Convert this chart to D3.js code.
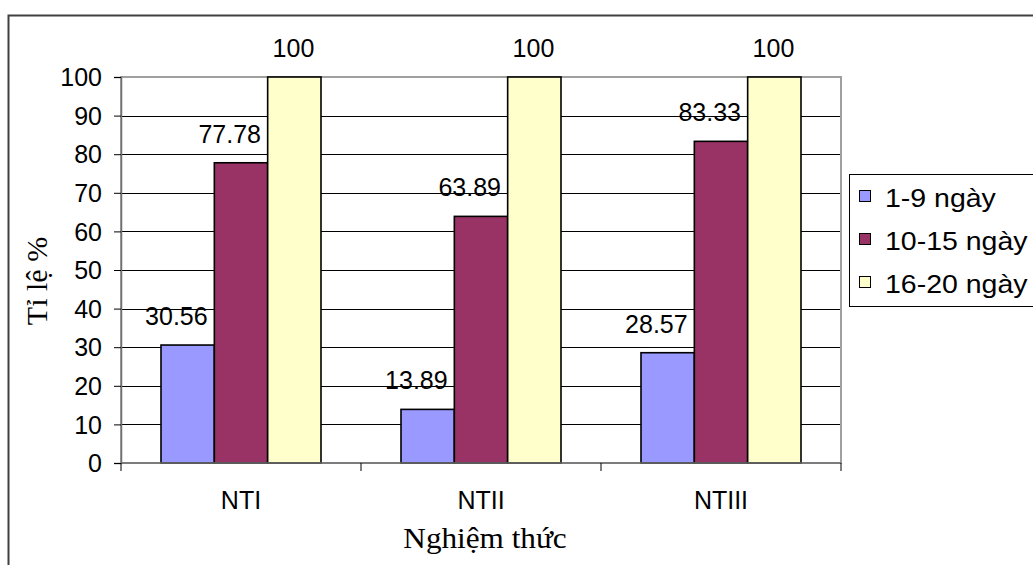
<!DOCTYPE html>
<html>
<head>
<meta charset="utf-8">
<script src="https://cdn.jsdelivr.net/npm/d3@7"></script>
<style>
  html, body { margin: 0; padding: 0; background: #fff; }
  svg { display: block; }
  .sans { font-family: "Liberation Sans", Arial, sans-serif; }
  .serif { font-family: "Liberation Serif", "Times New Roman", serif; }
</style>
</head>
<body>
<svg id="chart" width="1033" height="565"></svg>
<script>
// Treatments on the x axis and the three time ranges in the legend
const categories = ["NTI", "NTII", "NTIII"];
const seriesNames = ["1-9 ngày", "10-15 ngày", "16-20 ngày"];
const seriesColors = ["#9999FF", "#993366", "#FFFFCC"];

// Percentage values per time range, one entry per treatment
const values_1_9 = [30.56, 13.89, 28.57];
const values_10_15 = [77.78, 63.89, 83.33];
const values_16_20 = [100, 100, 100];

const yTicks = [0, 10, 20, 30, 40, 50, 60, 70, 80, 90, 100];

const seriesValues = [values_1_9, values_10_15, values_16_20];
const rows = [];
categories.forEach((c, ci) => {
  seriesNames.forEach((s, si) => {
    rows.push({ category: c, series: s, si, value: seriesValues[si][ci] });
  });
});

const svg = d3.select("#chart");

// Outer frame of the chart (open on the right and bottom edges)
svg.append("rect")
  .attr("x", 8.5).attr("y", 15.5)
  .attr("width", 1100).attr("height", 600)
  .attr("fill", "none").attr("stroke", "#404040").attr("stroke-width", 2);

const plot = { left: 121, right: 841, top: 77, bottom: 463 };

const x = d3.scaleBand().domain(categories).range([plot.left, plot.right]).padding(0);
const xInner = d3.scaleBand().domain(seriesNames)
  .range([x.bandwidth() / 6, x.bandwidth() * 5 / 6]).padding(0);
const y = d3.scaleLinear().domain([0, 100]).range([plot.bottom, plot.top]);

// Horizontal gridlines
svg.append("g").selectAll("line")
  .data(yTicks.filter(t => t > 0 && t < 100))
  .join("line")
  .attr("x1", plot.left).attr("x2", plot.right)
  .attr("y1", d => Math.round(y(d)) + 0.5).attr("y2", d => Math.round(y(d)) + 0.5)
  .attr("stroke", "#000").attr("stroke-width", 1);

// Plot area border
svg.append("rect")
  .attr("x", plot.left).attr("y", plot.top)
  .attr("width", plot.right - plot.left).attr("height", plot.bottom - plot.top)
  .attr("fill", "none").attr("stroke", "#a0a0a0").attr("stroke-width", 2);

// Bars
svg.append("g").selectAll("rect")
  .data(rows)
  .join("rect")
  .attr("x", d => x(d.category) + xInner(d.series))
  .attr("y", d => y(d.value))
  .attr("width", xInner.bandwidth())
  .attr("height", d => y(0) - y(d.value))
  .attr("fill", d => seriesColors[d.si])
  .attr("stroke", "#000").attr("stroke-width", 1.6);

// Y axis
const yAxis = d3.axisLeft(y).tickValues(yTicks).tickSize(7).tickPadding(12);
const gy = svg.append("g").attr("transform", `translate(${plot.left},0)`).call(yAxis);
gy.select(".domain").attr("stroke", "#707070").attr("stroke-width", 1.5);
gy.selectAll(".tick line").attr("stroke", "#000");
gy.selectAll(".tick text").attr("class", "sans").attr("font-size", 25).attr("fill", "#000")
  .attr("dy", "0.35em");

// X axis: ticks sit on the category boundaries
const gx = svg.append("g").attr("transform", `translate(0,${plot.bottom})`);
gx.append("line").attr("x1", plot.left).attr("x2", plot.right)
  .attr("y1", 0).attr("y2", 0).attr("stroke", "#707070").attr("stroke-width", 1.5);
const bounds = categories.map(c => x(c)).concat([x(categories[categories.length - 1]) + x.bandwidth()]);
gx.selectAll("line.tk").data(bounds).join("line").attr("class", "tk")
  .attr("x1", d => d).attr("x2", d => d).attr("y1", 0).attr("y2", 8)
  .attr("stroke", "#000").attr("stroke-width", 1);
gx.selectAll("text").data(categories).join("text")
  .attr("class", "sans")
  .attr("x", d => x(d) + x.bandwidth() / 2)
  .attr("y", 46)
  .attr("text-anchor", "middle")
  .attr("font-size", 25)
  .text(d => d);

// Value labels above the bars
svg.append("g").selectAll("text")
  .data(rows)
  .join("text")
  .attr("class", "sans")
  .attr("x", d => x(d.category) + xInner(d.series) + xInner.bandwidth() / 2 + 20)
  .attr("y", d => y(d.value) - 20)
  .attr("text-anchor", "end")
  .attr("font-size", 25)
  .text(d => d.value);

// Axis titles
svg.append("text").attr("class", "serif")
  .attr("transform", "translate(485,548) scale(1.04,1)")
  .attr("text-anchor", "middle").attr("font-size", 30)
  .text("Nghiệm thức");
svg.append("text").attr("class", "serif")
  .attr("transform", "translate(47,281) rotate(-90)")
  .attr("text-anchor", "middle").attr("font-size", 30)
  .text("Tỉ lệ %");

// Legend
const legend = svg.append("g");
legend.append("rect")
  .attr("x", 849.5).attr("y", 174.5).attr("width", 300).attr("height", 132)
  .attr("fill", "#fff").attr("stroke", "#000").attr("stroke-width", 1);
const li = legend.selectAll("g.item").data(seriesNames).join("g").attr("class", "item")
  .attr("transform", (d, i) => `translate(0,${207 + i * 43})`);
li.append("rect")
  .attr("x", 859.5).attr("y", -16.5).attr("width", 11).attr("height", 11)
  .attr("fill", (d, i) => seriesColors[i]).attr("stroke", "#000").attr("stroke-width", 1);
li.append("text").attr("class", "sans")
  .attr("transform", "translate(885,0) scale(1.14,1)")
  .attr("font-size", 25)
  .text(d => d);
</script>
</body>
</html>
